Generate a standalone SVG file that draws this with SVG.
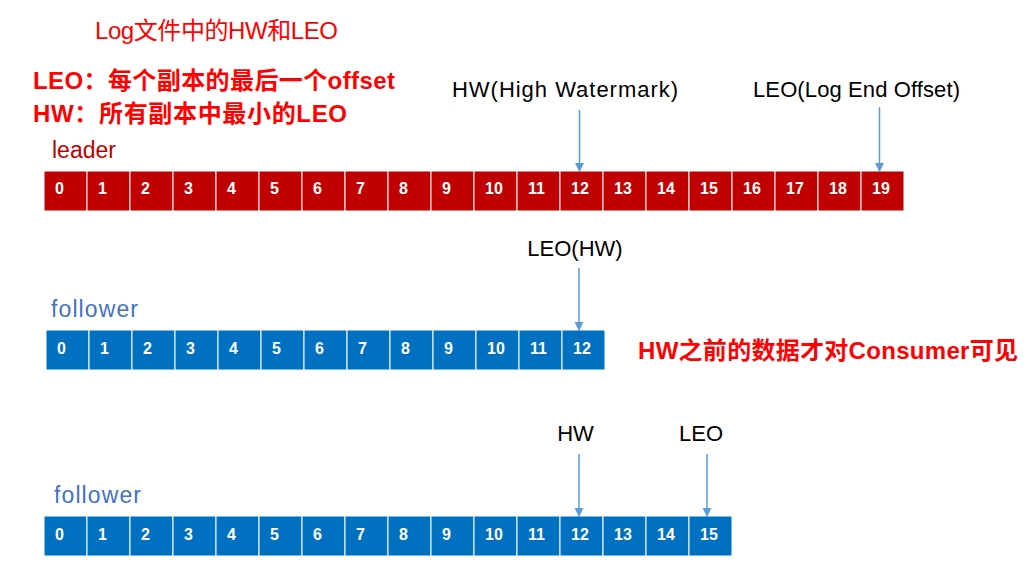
<svg xmlns="http://www.w3.org/2000/svg" width="1029" height="572" viewBox="0 0 1029 572">
<defs>
<style>
.cjk{font-family:"Liberation Sans","Noto Sans CJK SC",sans-serif}
.title{font-size:24px;fill:#FF0000}
.note{font-size:24px;fill:#FF0000;font-weight:bold}
.lbl{font-family:"Liberation Sans",sans-serif;font-size:22px;fill:#000}
.mid{text-anchor:middle}
.rowlbl{font-family:"Liberation Sans",sans-serif;font-size:23px}
.red rect{fill:#C00000;stroke:#fff;stroke-width:1}
.blue rect{fill:#0070C0;stroke:#fff;stroke-width:1}
.num{font-family:"Liberation Sans",sans-serif;font-size:16px;font-weight:bold;fill:#fff}
.arrow{stroke:#5B9BD5;stroke-width:1.5;fill:none;marker-end:url(#ah)}
</style>
<marker id="ah" viewBox="0 0 10 10" refX="10" refY="5" markerWidth="6" markerHeight="6" orient="auto" markerUnits="strokeWidth">
<path d="M0,0 L10,5 L0,10 z" fill="#5B9BD5"/>
</marker>
</defs>

<g id="title">
<text class="cjk title" x="95" y="39" textLength="243">Log文件中的HW和LEO</text>
</g>
<g id="definitions">
<text class="cjk note" x="33" y="89" textLength="362">LEO：每个副本的最后一个offset</text>
<text class="cjk note" x="33" y="122" textLength="314">HW：所有副本中最小的LEO</text>
</g>

<g id="leader-row" class="red">
<text class="rowlbl" x="52" y="158" fill="#C00000">leader</text>
<rect x="44" y="171" width="43" height="40"/><rect x="87" y="171" width="43" height="40"/><rect x="130" y="171" width="43" height="40"/><rect x="173" y="171" width="43" height="40"/><rect x="216" y="171" width="43" height="40"/><rect x="259" y="171" width="43" height="40"/><rect x="302" y="171" width="43" height="40"/><rect x="345" y="171" width="43" height="40"/><rect x="388" y="171" width="43" height="40"/><rect x="431" y="171" width="43" height="40"/><rect x="474" y="171" width="43" height="40"/><rect x="517" y="171" width="43" height="40"/><rect x="560" y="171" width="43" height="40"/><rect x="603" y="171" width="43" height="40"/><rect x="646" y="171" width="43" height="40"/><rect x="689" y="171" width="43" height="40"/><rect x="732" y="171" width="43" height="40"/><rect x="775" y="171" width="43" height="40"/><rect x="818" y="171" width="43" height="40"/><rect x="861" y="171" width="43" height="40"/>
<text class="num" y="194"><tspan x="55">0</tspan><tspan x="98">1</tspan><tspan x="141">2</tspan><tspan x="184">3</tspan><tspan x="227">4</tspan><tspan x="270">5</tspan><tspan x="313">6</tspan><tspan x="356">7</tspan><tspan x="399">8</tspan><tspan x="442">9</tspan><tspan x="485">10</tspan><tspan x="528">11</tspan><tspan x="571">12</tspan><tspan x="614">13</tspan><tspan x="657">14</tspan><tspan x="700">15</tspan><tspan x="743">16</tspan><tspan x="786">17</tspan><tspan x="829">18</tspan><tspan x="872">19</tspan></text>
</g>

<g id="follower1-row" class="blue">
<text class="rowlbl" x="51" y="317" fill="#4472C4" textLength="87">follower</text>
<rect x="46" y="330" width="43" height="40"/><rect x="89" y="330" width="43" height="40"/><rect x="132" y="330" width="43" height="40"/><rect x="175" y="330" width="43" height="40"/><rect x="218" y="330" width="43" height="40"/><rect x="261" y="330" width="43" height="40"/><rect x="304" y="330" width="43" height="40"/><rect x="347" y="330" width="43" height="40"/><rect x="390" y="330" width="43" height="40"/><rect x="433" y="330" width="43" height="40"/><rect x="476" y="330" width="43" height="40"/><rect x="519" y="330" width="43" height="40"/><rect x="562" y="330" width="43" height="40"/>
<text class="num" y="354"><tspan x="57">0</tspan><tspan x="100">1</tspan><tspan x="143">2</tspan><tspan x="186">3</tspan><tspan x="229">4</tspan><tspan x="272">5</tspan><tspan x="315">6</tspan><tspan x="358">7</tspan><tspan x="401">8</tspan><tspan x="444">9</tspan><tspan x="487">10</tspan><tspan x="530">11</tspan><tspan x="573">12</tspan></text>
</g>

<g id="follower2-row" class="blue">
<text class="rowlbl" x="54" y="503" fill="#4472C4" textLength="87">follower</text>
<rect x="44" y="516" width="43" height="40"/><rect x="87" y="516" width="43" height="40"/><rect x="130" y="516" width="43" height="40"/><rect x="173" y="516" width="43" height="40"/><rect x="216" y="516" width="43" height="40"/><rect x="259" y="516" width="43" height="40"/><rect x="302" y="516" width="43" height="40"/><rect x="345" y="516" width="43" height="40"/><rect x="388" y="516" width="43" height="40"/><rect x="431" y="516" width="43" height="40"/><rect x="474" y="516" width="43" height="40"/><rect x="517" y="516" width="43" height="40"/><rect x="560" y="516" width="43" height="40"/><rect x="603" y="516" width="43" height="40"/><rect x="646" y="516" width="43" height="40"/><rect x="689" y="516" width="43" height="40"/>
<text class="num" y="540"><tspan x="55">0</tspan><tspan x="98">1</tspan><tspan x="141">2</tspan><tspan x="184">3</tspan><tspan x="227">4</tspan><tspan x="270">5</tspan><tspan x="313">6</tspan><tspan x="356">7</tspan><tspan x="399">8</tspan><tspan x="442">9</tspan><tspan x="485">10</tspan><tspan x="528">11</tspan><tspan x="571">12</tspan><tspan x="614">13</tspan><tspan x="657">14</tspan><tspan x="700">15</tspan></text>
</g>

<g id="label-hw-leader"><text class="lbl" x="452" y="97" textLength="226">HW(High Watermark)</text></g>
<g id="label-leo-leader"><text class="lbl" x="753" y="97" textLength="207">LEO(Log End Offset)</text></g>
<g id="label-leohw-f1"><text class="lbl mid" x="575" y="256">LEO(HW)</text></g>
<g id="label-hw-f2"><text class="lbl mid" x="575.5" y="441">HW</text></g>
<g id="label-leo-f2"><text class="lbl mid" x="701" y="441">LEO</text></g>
<g id="note-consumer"><text class="cjk note" x="638" y="359" textLength="380">HW之前的数据才对Consumer可见</text></g>

<g id="connectors">
<line class="arrow" x1="579.5" y1="110" x2="579.5" y2="172"/>
<line class="arrow" x1="879.5" y1="107" x2="879.5" y2="172"/>
<line class="arrow" x1="579" y1="268" x2="579" y2="331"/>
<line class="arrow" x1="579" y1="454" x2="579" y2="517"/>
<line class="arrow" x1="707" y1="454" x2="707" y2="517"/>
</g>
</svg>
